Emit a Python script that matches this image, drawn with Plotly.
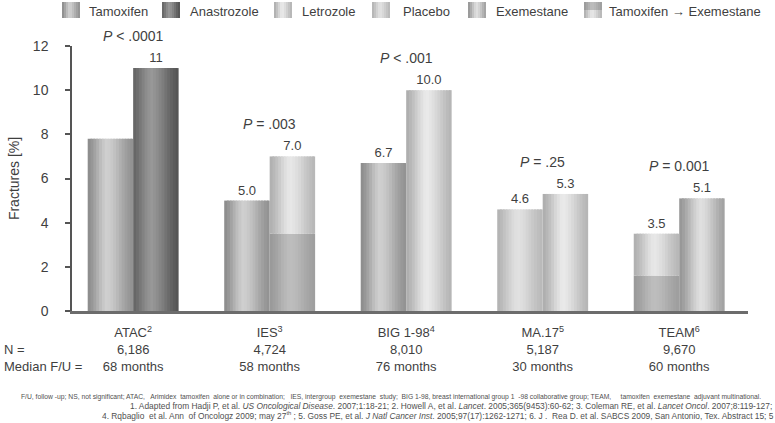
import math
import plotly.graph_objects as go

# ---------------- data ----------------
categories = ["ATAC", "IES", "BIG 1-98", "MA.17", "TEAM"]
refs = ["2", "3", "4", "5", "6"]
n_patients = ["6,186", "4,724", "8,010", "5,187", "9,670"]
median_fu = ["68 months", "58 months", "76 months", "30 months", "60 months"]
p_values = ["<i>P</i> < .0001", "<i>P</i> = .003", "<i>P</i> < .001",
            "<i>P</i> = .25", "<i>P</i> = 0.001"]

tam_x = ["ATAC", "IES", "BIG 1-98"]
tam_y = [7.8, 5.0, 6.7]
tam_lbl = ["", "5.0", "6.7"]

ana_x = ["ATAC"]
ana_y = [11.0]
ana_lbl = ["11"]

let_x = ["BIG 1-98", "MA.17"]
let_y = [10.0, 5.3]
let_lbl = ["10.0", "5.3"]

pla_x = ["MA.17"]
pla_y = [4.6]
pla_lbl = ["4.6"]

exe_x = ["TEAM"]
exe_y = [5.1]
exe_lbl = ["5.1"]

seq_x = ["IES", "TEAM"]
seq_y = [7.0, 3.5]
seq_tam_part = [3.5, 1.6]
seq_lbl = ["7.0", "3.5"]

legend_labels = ["Tamoxifen", "Anastrozole", "Letrozole", "Placebo", "Exemestane",
                 "Tamoxifen \u2192 Exemestane"]

footnote1 = ("F/U, follow -up; NS, not significant; ATAC,   Arimidex  tamoxifen  alone or in combination;   "
             "IES, intergroup  exemestane  study;  BIG 1-98, breast international group 1  -98 collaborative group; "
             "TEAM,     tamoxifen  exemestane  adjuvant multinational.")
footnote2 = ("1. Adapted from Hadji P, et al. <i>US Oncological Disease</i>. 2007;1:18-21; 2. Howell A, et al. "
             "<i>Lancet</i>. 2005;365(9453):60-62; 3. Coleman RE, et al. <i>Lancet Oncol</i>. 2007;8:119-127;")
footnote3 = ("4. Rqbaglio  et al. Ann  of Oncologz 2009; may 27<sup>th</sup> ; 5. Goss PE, et al. "
             "<i>J Natl Cancer Inst</i>. 2005;97(17):1262-1271; 6. J .  Rea D. et al. SABCS 2009, San Antonio, "
             "Tex. Abstract 15; 5")

# ---------------- style ----------------
FONT = "Liberation Sans, Arial, sans-serif"
TXT = "#3f3f3f"
W, H = 775, 423
ML, MR, MT, MB = 72, 27, 46, 112
PW, PH = W - ML - MR, H - MT - MB
BW = 0.333
NS = 16

# gray profiles: (left edge, peak, right edge, peak position)
P_TAM = (138, 208, 144, 0.42)
P_ANA = (100, 152, 82, 0.40)
P_LET = (172, 234, 180, 0.45)
P_PLA = (178, 226, 184, 0.45)
P_EXE = (148, 224, 160, 0.48)
P_SEQ_LO = (152, 190, 158, 0.45)
P_SEQ_HI = (174, 232, 182, 0.45)


def gray(v):
    return f"rgb({v},{v},{v})"


def shade(t, prof):
    left, mid, right, peak = prof
    if t <= peak:
        s, a = t / peak, left
    else:
        s, a = (1 - t) / (1 - peak), right
    s = max(0.0, min(1.0, s))
    f = 0.5 * (s ** 0.9) + 0.5 * math.sin(s * math.pi / 2) ** 2
    return int(round(a + (mid - a) * f))


def side_offsets(sides):
    return [-BW if s == "L" else 0.0 for s in sides]


fig = go.Figure()


def add_bar(xs, ys, sides, prof, base=None):
    offs = side_offsets(sides)
    w = BW / NS
    for i in range(NS):
        t = (i + 0.5) / NS
        wi = w * 1.6 if i < NS - 1 else w
        fig.add_trace(go.Bar(
            x=xs, y=ys, base=base,
            offset=[o + i * w for o in offs], width=wi,
            marker=dict(color=gray(shade(t, prof)), line=dict(width=0)),
            showlegend=False, hoverinfo="skip"))


def add_labels(xs, ys, sides, labels):
    keep = [k for k, lab in enumerate(labels) if lab]
    fig.add_trace(go.Bar(
        x=[xs[k] for k in keep], y=[ys[k] for k in keep],
        offset=[side_offsets(sides)[k] for k in keep], width=BW,
        marker=dict(color="rgba(0,0,0,0)", line=dict(width=0)),
        text=[labels[k] for k in keep], textposition="outside", cliponaxis=False,
        textfont=dict(family=FONT, size=13, color=TXT),
        showlegend=False, hoverinfo="skip"))


tam_sides = ["L", "L", "L"]
ana_sides = ["R"]
let_sides = ["R", "R"]
pla_sides = ["L"]
exe_sides = ["R"]
seq_sides = ["R", "L"]

add_bar(tam_x, tam_y, tam_sides, P_TAM)
add_bar(ana_x, ana_y, ana_sides, P_ANA)
add_bar(let_x, let_y, let_sides, P_LET)
add_bar(pla_x, pla_y, pla_sides, P_PLA)
add_bar(exe_x, exe_y, exe_sides, P_EXE)
add_bar(seq_x, seq_tam_part, seq_sides, P_SEQ_LO)
add_bar(seq_x, [t - b for t, b in zip(seq_y, seq_tam_part)], seq_sides, P_SEQ_HI, base=seq_tam_part)

add_labels(tam_x, tam_y, tam_sides, tam_lbl)
add_labels(ana_x, ana_y, ana_sides, ana_lbl)
add_labels(let_x, let_y, let_sides, let_lbl)
add_labels(pla_x, pla_y, pla_sides, pla_lbl)
add_labels(exe_x, exe_y, exe_sides, exe_lbl)
add_labels(seq_x, seq_y, seq_sides, seq_lbl)

# category tops for p-value placement
tops = {c: 0.0 for c in categories}
for xs, ys in [(tam_x, tam_y), (ana_x, ana_y), (let_x, let_y), (pla_x, pla_y),
               (exe_x, exe_y), (seq_x, seq_y)]:
    for x, y in zip(xs, ys):
        tops[x] = max(tops[x], y)


def px2x(px):
    return (px - ML) / PW


def py2y(py):
    return (H - MB - py) / PH


annotations = []
for c, p in zip(categories, p_values):
    annotations.append(dict(x=c, y=tops[c], xref="x", yref="y", text=p, showarrow=False,
                            yshift=32, font=dict(family=FONT, size=14, color=TXT)))

annotations.append(dict(x=px2x(2), y=py2y(349), xref="paper", yref="paper", text="N =",
                        xanchor="left", yanchor="middle", showarrow=False,
                        font=dict(family=FONT, size=13, color=TXT)))
annotations.append(dict(x=px2x(2), y=py2y(366), xref="paper", yref="paper", text="Median F/U =",
                        xanchor="left", yanchor="middle", showarrow=False,
                        font=dict(family=FONT, size=13, color=TXT)))

annotations.append(dict(x=px2x(19), y=py2y(397), xref="paper", yref="paper", text=footnote1,
                        xanchor="left", yanchor="middle", showarrow=False,
                        font=dict(family=FONT, size=6.75, color="#505050")))
annotations.append(dict(x=px2x(128), y=py2y(406), xref="paper", yref="paper", text=footnote2,
                        xanchor="left", yanchor="middle", showarrow=False,
                        font=dict(family=FONT, size=8.4, color="#505050")))
annotations.append(dict(x=px2x(100), y=py2y(415), xref="paper", yref="paper", text=footnote3,
                        xanchor="left", yanchor="middle", showarrow=False,
                        font=dict(family=FONT, size=8.4, color="#505050")))

# manual legend
legend_swatch_x = [62, 162, 274, 372, 468, 584]
legend_text_x = [87, 188, 300, 401, 494, 607]
legend_profiles = [P_TAM, P_ANA, P_LET, P_PLA, P_EXE, None]
shapes = []
SW, SY0, SY1, NSW = 18, 2, 18, 9
for sx, prof in zip(legend_swatch_x, legend_profiles):
    for i in range(NSW):
        t = (i + 0.5) / NSW
        x0 = sx + i * SW / NSW
        x1 = sx + (i + 1) * SW / NSW + (0.6 if i < NSW - 1 else 0)
        if prof is None:
            parts = [(SY0, (SY0 + SY1) / 2, P_SEQ_LO), ((SY0 + SY1) / 2, SY1, P_SEQ_HI)]
        else:
            parts = [(SY0, SY1, prof)]
        for ya, yb, pr in parts:
            shapes.append(dict(type="rect", xref="paper", yref="paper",
                               x0=px2x(x0), x1=px2x(x1), y0=py2y(yb), y1=py2y(ya),
                               fillcolor=gray(shade(t, pr)), line=dict(width=0), layer="above"))
for tx, lab in zip(legend_text_x, legend_labels):
    annotations.append(dict(x=px2x(tx), y=py2y(11), xref="paper", yref="paper", text=lab,
                            xanchor="left", yanchor="middle", showarrow=False,
                            font=dict(family=FONT, size=13, color=TXT)))

ticktext = [f"{c}<sup>{r}</sup><br>{n}<br>{m}" for c, r, n, m in
            zip(categories, refs, n_patients, median_fu)]

fig.update_layout(
    width=W, height=H,
    margin=dict(l=ML, r=MR, t=MT, b=MB, pad=0),
    paper_bgcolor="white", plot_bgcolor="white",
    barmode="overlay",
    showlegend=False,
    font=dict(family=FONT, size=13, color=TXT),
    annotations=annotations,
    shapes=shapes,
    xaxis=dict(type="category", categoryorder="array", categoryarray=categories,
               range=[-0.448, 4.504], tickvals=categories, ticktext=ticktext,
               showline=True, linecolor="#6c6c6c", linewidth=2.5, ticks="",
               showgrid=False, zeroline=False, ticklabelstandoff=8,
               tickfont=dict(family=FONT, size=13, color=TXT)),
    yaxis=dict(range=[0, 12], dtick=2, showline=True, linecolor="#555555", linewidth=1.5,
               ticks="outside", ticklen=5, tickcolor="#555555", tickwidth=1.5,
               showgrid=False, zeroline=False, ticklabelstandoff=14,
               tickfont=dict(family=FONT, size=14, color=TXT),
               title=dict(text="Fractures [%]", standoff=10,
                          font=dict(family=FONT, size=14, color=TXT))),
)

fig.write_html("out.html", config={"displayModeBar": False},
               post_script="document.body.style.margin='0px';document.body.style.overflow='hidden';")
